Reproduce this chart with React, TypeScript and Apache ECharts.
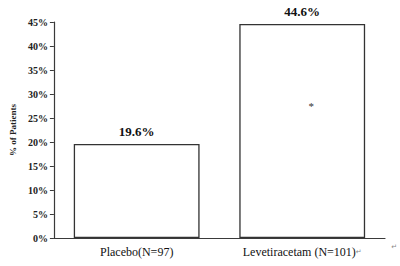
import React, { useEffect, useRef } from "react";
import * as echarts from "echarts";

const categories = ["Placebo(N=97)", "Levetiracetam (N=101)"];
const values = [19.6, 44.6];
const yTicks = { min: 0, max: 45, interval: 5 };
const asterisk = { category: 1, value: 27.9, text: "*" };

export default function App() {
  const ref = useRef<HTMLDivElement>(null);
  useEffect(() => {
    if (!ref.current) return;
    const chart = echarts.init(ref.current, undefined, { renderer: "svg" });
    const serif = "'Times New Roman', 'Liberation Serif', Times, serif";
    chart.setOption({
      animation: false,
      backgroundColor: "#ffffff",
      grid: { left: 52, right: 15, top: 22, bottom: 28 },
      xAxis: {
        type: "category",
        data: categories,
        axisLine: { lineStyle: { color: "#3a3a3a", width: 1.2 } },
        axisTick: { show: false },
        axisLabel: {
          interval: 0,
          margin: 8,
          fontFamily: serif,
          fontSize: 12,
          color: "#111",
          formatter: (v: string, i: number) =>
            i === 1 ? `{a|${v}}{r|↵}` : `{a|${v}}`,
          rich: {
            a: { fontFamily: serif, fontSize: 12, color: "#111" },
            r: { fontFamily: "DejaVu Sans", fontSize: 7, color: "#888" },
          },
        },
      },
      yAxis: {
        type: "value",
        min: yTicks.min,
        max: yTicks.max,
        interval: yTicks.interval,
        name: "% of Patients",
        nameLocation: "middle",
        nameGap: 34,
        nameTextStyle: { fontFamily: serif, fontSize: 9, fontWeight: "bold", color: "#222" },
        axisLine: { show: true, lineStyle: { color: "#3a3a3a", width: 1.2 } },
        axisTick: { show: true, length: 4, lineStyle: { color: "#3a3a3a" } },
        splitLine: { show: false },
        axisLabel: {
          margin: 6,
          fontFamily: serif,
          fontSize: 10,
          fontWeight: "bold",
          color: "#222",
          formatter: "{value}%",
        },
      },
      graphic: [
        {
          type: "text",
          right: 3,
          top: 243,
          style: { text: "↵", font: "7px DejaVu Sans", fill: "#888" },
        },
      ],
      series: [
        {
          type: "bar",
          data: values,
          barCategoryGap: "24%",
          itemStyle: { color: "#ffffff", borderColor: "#333", borderWidth: 1.3 },
          label: {
            show: true,
            position: "top",
            distance: 6,
            formatter: (p: any) => `${p.value.toFixed(1)}%`,
            fontFamily: serif,
            fontSize: 13,
            fontWeight: "bold",
            color: "#111",
          },
          markPoint: {
            symbol: "circle",
            symbolSize: 1,
            itemStyle: { color: "transparent" },
            data: [
              {
                coord: [asterisk.category, asterisk.value],
                label: {
                  show: true,
                  formatter: asterisk.text,
                  offset: [9, 2],
                  fontFamily: serif,
                  fontSize: 11,
                  color: "#333",
                },
              },
            ],
          },
        },
      ],
    });
    return () => chart.dispose();
  }, []);
  return <div ref={ref} style={{ width: 400, height: 266, position: "absolute", left: 0, top: 0 }} />;
}
